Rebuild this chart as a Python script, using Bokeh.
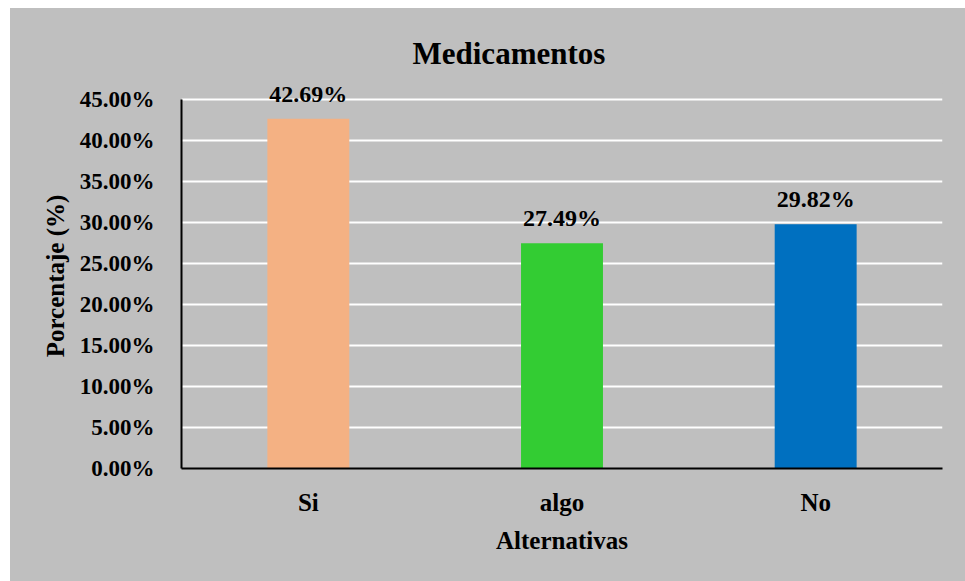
from bokeh.plotting import figure
from bokeh.models import ColumnDataSource, LabelSet, NumeralTickFormatter, SingleIntervalTicker, Title
from bokeh.embed import file_html
from bokeh.resources import INLINE

# Survey answers and their share of respondents
categories = ["Si", "algo", "No"]
percentages = [0.4269, 0.2749, 0.2982]
value_labels = ["42.69%", "27.49%", "29.82%"]
bar_colors = ["#F4B183", "#33CC33", "#0070C0"]

FONT = "Liberation Serif"
BG = "#BFBFBF"

source = ColumnDataSource(data=dict(
    cat=categories, pct=percentages, label=value_labels, color=bar_colors,
))

# the range runs a little past 45% so the top value label has room;
# axis and grid stop at 45%
p = figure(
    x_range=categories, y_range=(0, 0.47),
    width=955, height=573, margin=(8, 0, 0, 10),
    output_backend="svg", toolbar_location=None,
    min_border_left=171, min_border_right=23,
    min_border_top=75, min_border_bottom=113,
    background_fill_color=BG, border_fill_color=BG,
    outline_line_color=None,
    styles={"background-color": BG},
)

p.vbar(x="cat", top="pct", width=0.323, color="color", line_color=None, source=source)

labels = LabelSet(
    x="cat", y="pct", text="label", source=source,
    text_align="center", text_baseline="alphabetic", y_offset=17,
    text_font=FONT, text_font_style="bold", text_font_size="24px", text_color="#000000",
)
p.add_layout(labels)

title = Title(
    text="Medicamentos", align="left", offset=231, standoff=25,
    text_font=FONT, text_font_style="bold", text_font_size="31px", text_color="#000000",
)
p.add_layout(title, "above")

# grid
p.xgrid.grid_line_color = None
p.ygrid.grid_line_color = "white"
p.ygrid.grid_line_width = 2
p.ygrid.ticker = SingleIntervalTicker(interval=0.05)
p.ygrid.bounds = (0, 0.45)

# y axis
p.yaxis.ticker = SingleIntervalTicker(interval=0.05)
p.yaxis.bounds = (0, 0.45)
p.yaxis.formatter = NumeralTickFormatter(format="0.00%")
p.yaxis.axis_label = "Porcentaje (%)"
p.yaxis.axis_label_standoff = 8
p.yaxis.major_label_standoff = 21

# x axis
p.xaxis.axis_label = "Alternativas"
p.xaxis.axis_label_standoff = 8
p.xaxis.major_label_standoff = 14

for ax in (p.xaxis, p.yaxis):
    ax.axis_line_color = "black"
    ax.axis_line_width = 2
    ax.major_tick_line_color = None
    ax.minor_tick_line_color = None
    ax.major_label_text_font = FONT
    ax.major_label_text_font_style = "bold"
    ax.major_label_text_color = "black"
    ax.axis_label_text_font = FONT
    ax.axis_label_text_font_style = "bold"
    ax.axis_label_text_font_size = "25px"
    ax.axis_label_text_color = "black"

p.yaxis.major_label_text_font_size = "23px"
p.xaxis.major_label_text_font_size = "25px"

open("out.html", "w").write(file_html(p, INLINE))
